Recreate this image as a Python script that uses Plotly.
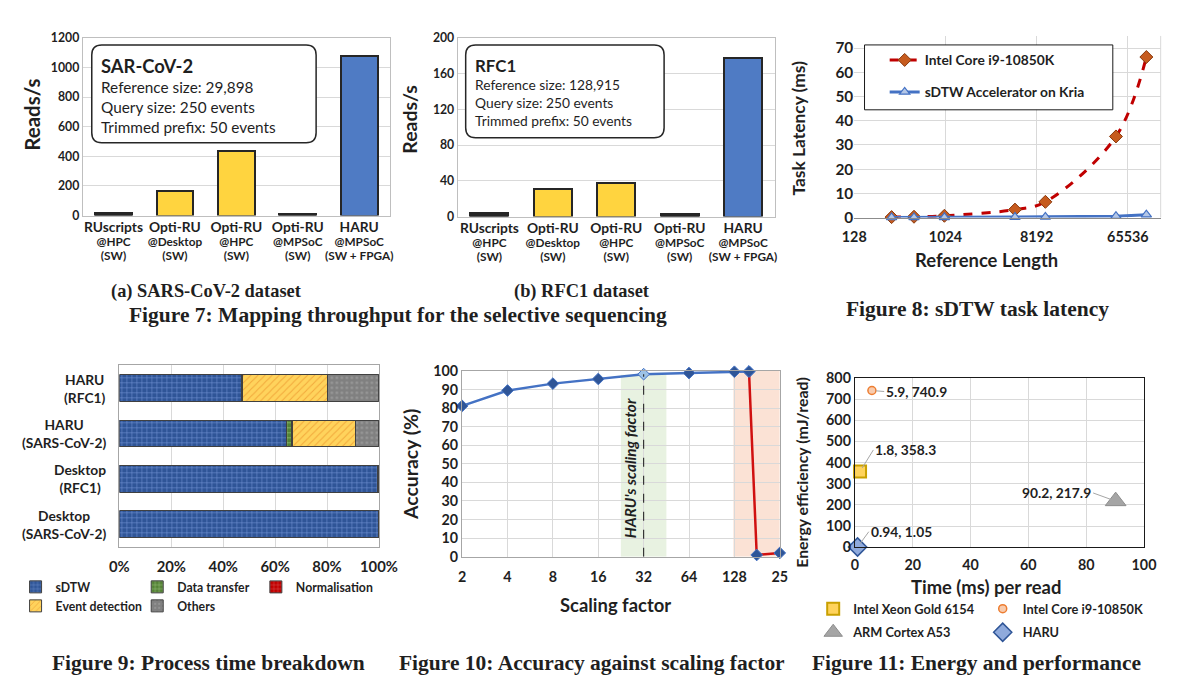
import plotly.graph_objects as go

W, H = 1200, 683
# the photographed page comes out slightly scaled/offset; positions below are
# given in picture pixels and mapped back to page pixels
S, C = 0.977, 8.0
SANS = "Lato"
SERIF = "Liberation Serif"
INK = "#1F1F1F"
GRID = "#D9D9D9"


def PX(x):
    return (x - C) / S


def X(x):
    return PX(x) / W


def Y(y):
    return 1 - PX(y) / H


def FS(s):
    return s / S


def dom_x(l, r):
    return [X(l), X(r)]


def dom_y(t, b):
    return [Y(b), Y(t)]


# ---------------- data: Figure 7 ----------------
cat_keys = ["RUscripts@HPC", "Opti-RU@Desktop", "Opti-RU@HPC", "Opti-RU@MPSoC", "HARU@MPSoC"]
cat_name = ["RUscripts", "Opti-RU", "Opti-RU", "Opti-RU", "HARU"]
cat_platform = ["@HPC", "@Desktop", "@HPC", "@MPSoC", "@MPSoC"]
cat_impl = ["(SW)", "(SW)", "(SW)", "(SW)", "(SW + FPGA)"]
reads_sars = [15, 165, 435, 12, 1075]
reads_rfc1 = [3.5, 31, 38, 3, 178]
box_a_title = "SAR-CoV-2"
box_a_lines = ["Reference size: 29,898", "Query size: 250 events", "Trimmed prefix: 50 events"]
box_b_title = "RFC1"
box_b_lines = ["Reference size: 128,915", "Query size: 250 events", "Trimmed prefix: 50 events"]

# ---------------- data: Figure 8 ----------------
ref_length = [300, 500, 1000, 5000, 10000, 50000, 100000]
lat_intel = [0.2, 0.35, 0.75, 3.3, 6.5, 33.5, 66.3]
lat_kria = [0.05, 0.07, 0.12, 0.22, 0.3, 0.6, 1.2]
ticks8 = [128, 1024, 8192, 65536]

# ---------------- data: Figure 9 ----------------
rows9 = ["HARU (RFC1)", "HARU (SARS-CoV-2)", "Desktop (RFC1)", "Desktop (SARS-CoV-2)"]
sdtw = [47.0, 64.3, 99.3, 99.9]
data_transfer = [0.3, 2.0, 0.0, 0.0]
normalisation = [0.2, 0.4, 0.0, 0.0]
event_detection = [32.5, 24.2, 0.5, 0.05]
others = [20.0, 9.1, 0.2, 0.05]
ticks9 = [0, 20, 40, 60, 80, 100]

# ---------------- data: Figure 10 ----------------
scaling = [2, 4, 8, 16, 32, 64, 128, 160]
accuracy = [81.2, 89.5, 93.2, 95.7, 98.3, 98.9, 99.6, 99.7]
scaling_fail = [160, 180, 256]
accuracy_fail = [99.7, 0.9, 2.0]
ticks10 = [2, 4, 8, 16, 32, 64, 128, 256]
ticklabels10 = ["2", "4", "8", "16", "32", "64", "128", "25"]
haru_scaling = 32

# ---------------- data: Figure 11 ----------------
platforms = ["Intel Xeon Gold 6154", "Intel Core i9-10850K", "ARM Cortex A53", "HARU"]
time_ms = [1.8, 5.9, 90.2, 0.94]
energy = [358.3, 740.9, 217.9, 1.05]

fig = go.Figure()

# ===== Figure 7a / 7b bars =====
bar_colors = ["#262626", "#FFD43F", "#FFD43F", "#262626", "#4F7BC4"]
tick7 = ["<span style='font-size:%.1fpx'>%s</span><br><span style='font-size:%.1fpx'>%s</span>"
         "<br><span style='font-size:%.1fpx'>%s</span>" % (FS(13.5), a, FS(11.5), b, FS(11.5), c)
         for a, b, c in zip(cat_name, cat_platform, cat_impl)]
for vals, xa, ya in [(reads_sars, "x", "y"), (reads_rfc1, "x2", "y2")]:
    fig.add_trace(go.Bar(x=cat_keys, y=vals, xaxis=xa, yaxis=ya, showlegend=False,
                         width=0.6,
                         marker=dict(color=bar_colors, line=dict(color="#262626", width=2))))

# ===== Figure 8 lines =====
fig.add_trace(go.Scatter(x=ref_length, y=lat_intel, xaxis="x3", yaxis="y3",
                         name="Intel Core i9-10850K", mode="lines+markers",
                         line=dict(color="#C00000", width=3, dash="dash", shape="spline"),
                         marker=dict(symbol="diamond", size=10, color="#C65B1E",
                                     line=dict(color="#8A3A0E", width=1)),
                         legend="legend", legendgroup="a", cliponaxis=False))
fig.add_trace(go.Scatter(x=ref_length, y=lat_kria, xaxis="x3", yaxis="y3",
                         name="sDTW Accelerator on Kria", mode="lines+markers",
                         line=dict(color="#4472C4", width=3),
                         marker=dict(symbol="triangle-up", size=9, color="#B4C7E7",
                                     line=dict(color="#4472C4", width=1.2)),
                         legend="legend", legendgroup="b", cliponaxis=False))

# ===== Figure 9 stacked bars =====
stack_specs = [
    ("sDTW", sdtw, "#2F5597", "#7595D6", "+", "legend2"),
    ("Data transfer", data_transfer, "#548235", "#A9D18E", "+", "legend3"),
    ("Normalisation", normalisation, "#C00000", "#E06060", "+", "legend4"),
    ("Event detection", event_detection, "#FFD35C", "#F2A93B", "/", "legend2"),
    ("Others", others, "#808080", "#9A9A9A", ".", "legend3"),
]
for name, vals, bg, fg, shp, lg in stack_specs:
    fig.add_trace(go.Bar(y=rows9, x=vals, orientation="h", name=name, xaxis="x4", yaxis="y4",
                         legend=lg, legendgroup=name, width=0.59,
                         marker=dict(color=bg, line=dict(color="#404040", width=1),
                                     pattern=dict(shape=shp, fgcolor=fg, bgcolor=bg,
                                                  size=5, solidity=0.2, fillmode="replace"))))

# ===== Figure 10 accuracy =====
mcols = ["#9DC3E6" if s == haru_scaling else "#2F5597" for s in scaling]
fig.add_trace(go.Scatter(x=scaling, y=accuracy, xaxis="x5", yaxis="y5", mode="lines+markers",
                         showlegend=False, cliponaxis=False,
                         line=dict(color="#4472C4", width=2.5),
                         marker=dict(symbol="diamond", size=9, color=mcols,
                                     line=dict(color="#4472C4", width=1))))
fig.add_trace(go.Scatter(x=scaling_fail, y=accuracy_fail, xaxis="x5", yaxis="y5",
                         mode="lines+markers", showlegend=False, cliponaxis=False,
                         line=dict(color="#D01010", width=2.5),
                         marker=dict(symbol="diamond", size=9, color="#2F5597",
                                     line=dict(color="#4472C4", width=1))))

# ===== Figure 11 scatter =====
m11 = [
    dict(symbol="square", size=12, color="#FFD35C", line=dict(color="#C9A000", width=2)),
    dict(symbol="circle", size=8, color="#F8CBAD", line=dict(color="#ED7D31", width=1.5)),
    dict(symbol="triangle-up", size=18, color="#A5A5A5", line=dict(color="#8C8C8C", width=1)),
    dict(symbol="diamond", size=14, color="#8FAADC", line=dict(color="#2F5597", width=1.5)),
]
legend_of = ["legend5", "legend6", "legend5", "legend6"]
for i, p in enumerate(platforms):
    fig.add_trace(go.Scatter(x=[time_ms[i]], y=[energy[i]], xaxis="x6", yaxis="y6",
                             mode="markers", name=p, marker=m11[i], legend=legend_of[i],
                             legendgroup=p, cliponaxis=False))


# ---------------- axes ----------------
def F(size, bold=True, family=SANS):
    return dict(family=family, size=FS(size), color=INK, weight="bold" if bold else "normal")


fig.update_layout(
    xaxis=dict(domain=dom_x(79, 387), anchor="y", type="category", tickvals=cat_keys,
               ticktext=tick7, tickfont=F(10.5), tickangle=0, ticklabelstandoff=3,
               showline=True, linecolor="#BFBFBF", mirror=True, ticks="", showgrid=False),
    yaxis=dict(domain=dom_y(37, 215), anchor="x", range=[0, 1200], dtick=200,
               tickfont=F(12), gridcolor=GRID, zeroline=False,
               showline=True, linecolor="#BFBFBF", mirror=True),
    xaxis2=dict(domain=dom_x(455, 773), anchor="y2", type="category", tickvals=cat_keys,
                ticktext=tick7, tickfont=F(10.5), tickangle=0, ticklabelstandoff=3,
                showline=True, linecolor="#BFBFBF", mirror=True, ticks="", showgrid=False),
    yaxis2=dict(domain=dom_y(37, 216), anchor="x2", range=[0, 200], dtick=40,
                tickfont=F(12), gridcolor=GRID, zeroline=False,
                showline=True, linecolor="#BFBFBF", mirror=True),
    xaxis3=dict(domain=dom_x(852.7, 1160), anchor="y3", type="log",
                range=[0.30103 * 7, 0.30103 * 17.08], tickvals=ticks8,
                ticktext=[str(t) for t in ticks8], tickfont=F(14), gridcolor=GRID,
                showline=True, linecolor="#8C8C8C", ticklabelstandoff=6),
    yaxis3=dict(domain=dom_y(35, 217), anchor="x3", range=[0, 75], dtick=10,
                tickfont=F(15), gridcolor=GRID, zeroline=False),
    xaxis4=dict(domain=dom_x(115.7, 376), anchor="y4", range=[0, 100], tickvals=ticks9,
                ticktext=["%d%%" % t for t in ticks9], tickfont=F(14.5),
                gridcolor=GRID, showline=True, linecolor="#A6A6A6", mirror=True,
                zeroline=False, ticklabelstandoff=6),
    yaxis4=dict(domain=dom_y(365, 547), anchor="x4", type="category",
                categoryorder="array", categoryarray=rows9[::-1], showticklabels=False,
                showline=True, linecolor="#A6A6A6", mirror=True, showgrid=False),
    xaxis5=dict(domain=dom_x(459.3, 778), anchor="y5", type="log",
                range=[0.30103 - 0.001, 0.30103 * 8], tickvals=ticks10, ticktext=ticklabels10,
                tickfont=F(14), gridcolor=GRID, showline=True, linecolor="#A6A6A6",
                mirror=True, ticklabelstandoff=7),
    yaxis5=dict(domain=dom_y(370.7, 556.7), anchor="x5", range=[0, 100], dtick=10,
                tickfont=F(14), gridcolor=GRID, zeroline=False,
                showline=True, linecolor="#A6A6A6", mirror=True),
    xaxis6=dict(domain=dom_x(853.3, 1143.3), anchor="y6", range=[0, 100], dtick=20,
                tickfont=F(14), gridcolor=GRID,
                showline=True, linecolor="#1A1A1A", mirror=True, zeroline=False,
                ticklabelstandoff=5),
    yaxis6=dict(domain=dom_y(377.7, 547.3), anchor="x6", range=[0, 800], dtick=100,
                tickfont=F(14), gridcolor=GRID,
                showline=True, linecolor="#1A1A1A", mirror=True, zeroline=False),
)


def col_legend(marker_x, y_mid, off, size, gap):
    return dict(x=(PX(marker_x) - off) / W, y=Y(y_mid), xanchor="left", yanchor="middle",
                orientation="v", font=F(size), traceorder="grouped", tracegroupgap=gap,
                bgcolor="rgba(0,0,0,0)", borderwidth=0)


fig.update_layout(
    legend=dict(x=PX(892) / W - 9 / W, y=1 - (PX(61.5) - 18.4) / H, xanchor="left",
                yanchor="top", borderwidth=0, bgcolor="rgba(0,0,0,0)", font=F(13.5),
                tracegroupgap=11, traceorder="grouped"),
    legend2=col_legend(36, 596.5, 25, 12, 0),
    legend3=col_legend(158, 596.5, 25, 12, 0),
    legend4=col_legend(277, 587, 25, 12, 0),
    legend5=col_legend(834, 621, 23, 12.5, 4),
    legend6=col_legend(1004, 621, 23, 12.5, 4),
)


# ---------------- shapes ----------------
def rounded(x0, y0, x1, y1, r):
    p = ("M {a},{b} L {c},{b} Q {d},{b} {d},{e} L {d},{f} Q {d},{g} {c},{g} "
         "L {a},{g} Q {h},{g} {h},{f} L {h},{e} Q {h},{b} {a},{b} Z").format(
        a=X(x0 + r), b=Y(y0), c=X(x1 - r), d=X(x1), e=Y(y0 + r), f=Y(y1 - r),
        g=Y(y1), h=X(x0))
    return dict(type="path", path=p, xref="paper", yref="paper", fillcolor="white",
                line=dict(color="#262626", width=1.5), layer="above")


shapes = [
    rounded(88, 44, 313, 142, 10),
    rounded(463, 44, 662, 137, 10),
    dict(type="rect", xref="paper", yref="paper", x0=X(863), x1=X(1112), y0=Y(109), y1=Y(44),
         fillcolor="white", line=dict(color="#1A1A1A", width=1), layer="above"),
    dict(type="rect", xref="x5", yref="y5", x0=22.6, x1=45.3, y0=0, y1=98,
         fillcolor="#E2EFDA", opacity=0.8, line=dict(width=0), layer="below"),
    dict(type="rect", xref="x5", yref="y5", x0=126, x1=256, y0=0, y1=100,
         fillcolor="#FBDFD0", opacity=0.9, line=dict(width=0), layer="below"),
    dict(type="line", xref="x5", yref="y5", x0=haru_scaling, x1=haru_scaling, y0=0, y1=98.3,
         line=dict(color="#262626", width=1.1, dash="dash")),
    dict(type="line", xref="paper", yref="paper", x0=X(1160), x1=X(1160), y0=Y(35), y1=Y(217),
         line=dict(color=GRID, width=1)),
]
fig.update_layout(shapes=shapes)

# ---------------- annotations ----------------
ann = []


def text(x, y, s, size, bold=True, xanchor="center", yanchor="middle", angle=0,
         family=SANS, align="center"):
    ann.append(dict(x=X(x), y=Y(y), xref="paper", yref="paper", text=s, showarrow=False,
                    xanchor=xanchor, yanchor=yanchor, textangle=angle, align=align,
                    font=F(size, bold, family)))


# text boxes
text(95, 65, box_a_title, 18, xanchor="left")
for i, s in enumerate(box_a_lines):
    text(95, 86 + 20.2 * i, s, 15, bold=False, xanchor="left")
text(470, 65, box_b_title, 16.5, xanchor="left")
for i, s in enumerate(box_b_lines):
    text(470, 83.3 + 18.3 * i, s, 13.5, bold=False, xanchor="left")

# axis titles
text(28, 114, "Reads/s", 20, angle=-90)
text(407, 118, "Reads/s", 19, angle=-90)
text(797, 127, "Task Latency (ms)", 17, angle=-90)
text(985, 259, "Reference Length", 18)
text(407, 464, "Accuracy (%)", 19, angle=-90)
text(613, 605, "Scaling factor", 18)
text(799, 472, "Energy efficiency (mJ/read)", 15.5, angle=-90)
text(985, 587, "Time (ms) per read", 18)
text(628, 468, "<i>HARU's scaling factor</i>", 15, angle=-90)

# figure 9 row labels
for r in rows9:
    a, b = r.split(" ")
    ann.append(dict(x=X(104), y=r, xref="paper", yref="y4", text=a + "<br>" + b,
                    showarrow=False, xanchor="right", yanchor="middle", align="center",
                    font=F(13.5)))

# figure 11 point labels
offs = [(13, -21, "left"), (12, 1, "left"), (-22, -8, "right"), (11, -15, "left")]
for i in range(len(platforms)):
    ax_, ay_, xa = offs[i]
    ann.append(dict(x=time_ms[i], y=energy[i], xref="x6", yref="y6",
                    text="%s, %s" % (time_ms[i], energy[i]), showarrow=True, arrowhead=0,
                    arrowcolor="#A6A6A6", arrowwidth=1, ax=ax_ / S, ay=ay_ / S, xanchor=xa,
                    yanchor="middle", standoff=4, font=F(13.5)))

# captions
text(203, 291, "(a) SARS-CoV-2 dataset", 18, family=SERIF)
text(580, 291, "(b) RFC1 dataset", 18, family=SERIF)
text(395, 315, "Figure 7: Mapping throughput for the selective sequencing", 21, family=SERIF)
text(976, 309, "Figure 8: sDTW task latency", 21, family=SERIF)
text(205, 663, "Figure 9: Process time breakdown", 21, family=SERIF)
text(590, 663, "Figure 10: Accuracy against scaling factor", 21, family=SERIF)
text(975, 663, "Figure 11: Energy and performance", 21, family=SERIF)

fig.update_layout(annotations=ann, width=W, height=H,
                  margin=dict(l=0, r=0, t=0, b=0), paper_bgcolor="white",
                  plot_bgcolor="white", font=dict(family=SANS, color=INK),
                  barmode="stack", bargap=0.4)

fig.write_html("out.html", config={"displayModeBar": False},
               post_script="document.body.style.margin='0';document.body.style.overflow='hidden';")
